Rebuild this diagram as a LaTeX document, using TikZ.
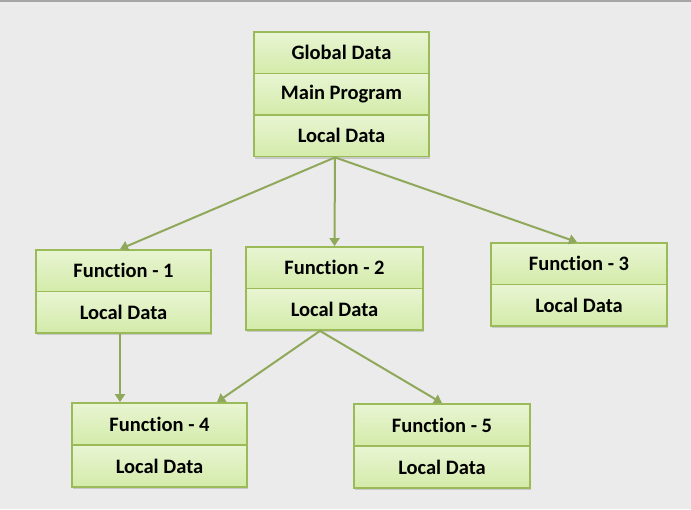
\documentclass[tikz,border=0pt]{standalone}
\usepackage{fontspec}
\setmainfont[Ligatures=NoCommon]{Carlito}
\usetikzlibrary{shadows,arrows.meta}
\definecolor{bg}{HTML}{EBEBEB}
\definecolor{cellborder}{HTML}{9BBB59}
\definecolor{celltop}{HTML}{E9F5D3}
\definecolor{cellbot}{HTML}{D3EBA9}
\definecolor{arrowc}{HTML}{8FA85A}
\begin{document}
\begin{tikzpicture}[x=1pt,y=-1pt,
  cell/.style n args={2}{draw=cellborder, line width=1.8pt,
    top color=celltop, bottom color=cellbot,
    minimum width=#1, minimum height=#2, inner sep=0pt,
    font=\fontsize{20.5}{22}\selectfont\bfseries,
    drop shadow={shadow xshift=1pt, shadow yshift=-2pt, opacity=0.25, fill=black!60}},
  link/.style={draw=arrowc, line width=2pt, -{Triangle[length=8pt,width=10pt]}}]
\fill[bg] (0,0) rectangle (691,509);
\fill[black!35] (0,0) rectangle (691,2);
\useasboundingbox (0,0) rectangle (691,509);
% main
\node[cell={175pt}{41.5pt}] (mg) at (341.5,52.75) {Global Data};
\node[cell={175pt}{41.5pt}] (mp) at (341.5,94.25) {Main Program};
\node[cell={175pt}{41.5pt}] (ml) at (341.5,135.75) {Local Data};
% function 1
\node[cell={175pt}{41.5pt}] (f1a) at (123.5,270.75) {Function - 1};
\node[cell={175pt}{41.5pt}] (f1b) at (123.5,312.25) {Local Data};
% function 2
\node[cell={177pt}{41.5pt}] (f2a) at (334.5,267.75) {Function - 2};
\node[cell={177pt}{41.5pt}] (f2b) at (334.5,309.25) {Local Data};
% function 3
\node[cell={176pt}{41.5pt}] (f3a) at (579,263.75) {Function - 3};
\node[cell={176pt}{41.5pt}] (f3b) at (579,305.25) {Local Data};
% function 4
\node[cell={175pt}{42pt}] (f4a) at (159.5,424) {Function - 4};
\node[cell={175pt}{42pt}] (f4b) at (159.5,466) {Local Data};
% function 5
\node[cell={176pt}{42pt}] (f5a) at (442,425) {Function - 5};
\node[cell={176pt}{42pt}] (f5b) at (442,467) {Local Data};
% connectors
\coordinate (mo) at ([xshift=-6.5pt]ml.south);
\coordinate (fo) at ([xshift=-14.5pt]f2b.south);
\draw[link] (mo) -- ([xshift=-3.5pt]f1a.north);
\draw[link] (mo) -- (f2a.north);
\draw[link] (mo) -- ([xshift=-2pt]f3a.north);
\draw[link] ([xshift=-3.5pt]f1b.south) -- ([xshift=-39.5pt]f4a.north);
\draw[link] (fo) -- ([xshift=57.5pt]f4a.north);
\draw[link] (fo) -- (f5a.north);
\end{tikzpicture}
\end{document}
